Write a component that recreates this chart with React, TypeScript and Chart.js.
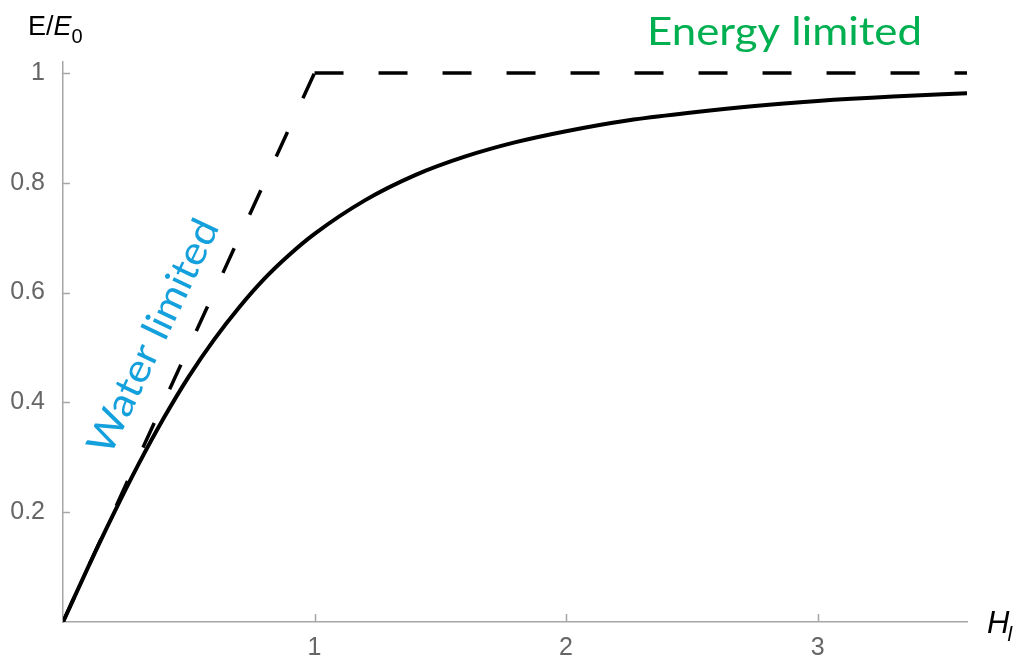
import React, { useEffect, useRef } from "react";
import { Chart, registerables } from "chart.js";

Chart.register(...registerables);

// Aridity index H_l along the curve and the evaporation ratio E/E0
const hValues = [0, 0.1, 0.2, 0.3, 0.4, 0.5, 0.6, 0.7, 0.8, 0.9, 1.0, 1.2, 1.4, 1.6, 1.8, 2.0, 2.25, 2.5, 2.75, 3.0, 3.3, 3.594];
const evapRatio = [0, 0.1, 0.196, 0.287, 0.371, 0.447, 0.514, 0.573, 0.625, 0.669, 0.707, 0.768, 0.814, 0.848, 0.874, 0.894, 0.914, 0.928, 0.94, 0.949, 0.957, 0.963];

// Limit lines: water-limited branch and energy-limited plateau
const waterLimitH = [0, 1];
const waterLimitE = [0, 1];
const energyLimitH = [1, 3.594];
const energyLimitE = [1, 1];

// Axis ticks
const xTicks = [1, 2, 3];
const xTickLabels = ["1", "2", "3"];
const yTicks = [0.2, 0.4, 0.6, 0.8, 1];
const yTickLabels = ["0.2", "0.4", "0.6", "0.8", "1"];

const AXIS_COLOR = "#a6a6a6";
const TICK_TEXT = "#666666";
const GREEN = "#00b050";
const BLUE = "#14a0dc";
const SANS = "'Liberation Sans', Arial, sans-serif";

function toPoints(xs: number[], ys: number[]) {
  return xs.map((x, i) => ({ x, y: ys[i] }));
}

function drawFitted(
  ctx: CanvasRenderingContext2D,
  text: string,
  x: number,
  y: number,
  width: number,
  font: string,
  color: string,
  angle: number
) {
  ctx.save();
  ctx.font = font;
  ctx.fillStyle = color;
  ctx.textAlign = "center";
  ctx.textBaseline = "alphabetic";
  const w = ctx.measureText(text).width;
  ctx.translate(x, y);
  ctx.rotate(angle);
  ctx.scale(width / w, 1);
  ctx.fillText(text, 0, 0);
  ctx.restore();
}

const annotations = {
  id: "annotations",
  afterDraw(chart: any) {
    const ctx: CanvasRenderingContext2D = chart.ctx;
    const xs = chart.scales.x;
    const ys = chart.scales.y;
    const left = chart.chartArea.left;
    const bottom = chart.chartArea.bottom;

    // inward tick marks
    ctx.save();
    ctx.strokeStyle = AXIS_COLOR;
    ctx.lineWidth = 1.5;
    ctx.beginPath();
    yTicks.forEach((v) => {
      const py = Math.round(ys.getPixelForValue(v)) + 0.5;
      ctx.moveTo(left, py);
      ctx.lineTo(left + 7, py);
    });
    xTicks.forEach((v) => {
      const px = Math.round(xs.getPixelForValue(v)) + 0.5;
      ctx.moveTo(px, bottom);
      ctx.lineTo(px, bottom - 8);
    });
    ctx.stroke();
    ctx.restore();

    // axis titles
    ctx.save();
    ctx.fillStyle = "#000";
    ctx.textBaseline = "alphabetic";
    ctx.textAlign = "left";
    let tx = 28;
    ctx.font = `27px ${SANS}`;
    ctx.fillText("E/", tx, 35);
    tx += ctx.measureText("E/").width;
    ctx.font = `italic 27px ${SANS}`;
    ctx.fillText("E", tx, 35);
    tx += ctx.measureText("E").width;
    ctx.font = `20px ${SANS}`;
    ctx.fillText("0", tx, 43);

    ctx.font = `italic 31px ${SANS}`;
    ctx.fillText("H", 987, 633);
    const hw = ctx.measureText("H").width;
    ctx.font = `italic 21px ${SANS}`;
    ctx.fillText("l", 985 + hw, 641);
    ctx.restore();

    // regime labels
    drawFitted(ctx, "Energy limited", 784.5, 45, 275, `39px Lato, sans-serif`, GREEN, 0);
    drawFitted(ctx, "Water limited", 165, 342, 255, `39px Lato, sans-serif`, BLUE, (-64.5 * Math.PI) / 180);
  },
};

export default function App() {
  const canvasRef = useRef<HTMLCanvasElement | null>(null);

  useEffect(() => {
    const canvas = canvasRef.current;
    if (!canvas) return;
    const chart = new Chart(canvas, {
      type: "line",
      data: {
        datasets: [
          {
            data: toPoints(hValues, evapRatio),
            borderColor: "#000",
            borderWidth: 4,
            pointRadius: 0,
            cubicInterpolationMode: "monotone",
            fill: false,
          },
          {
            data: toPoints(waterLimitH, waterLimitE),
            borderColor: "#000",
            borderWidth: 3.5,
            borderDash: [27, 37],
            borderDashOffset: 0,
            pointRadius: 0,
            fill: false,
          },
          {
            data: toPoints(energyLimitH, energyLimitE),
            borderColor: "#000",
            borderWidth: 3.5,
            borderDash: [29, 35],
            borderDashOffset: 0,
            pointRadius: 0,
            fill: false,
          },
        ],
      },
      options: {
        responsive: false,
        animation: false,
        layout: { padding: { left: 0, right: 63, top: 62, bottom: 0 } },
        plugins: { legend: { display: false }, tooltip: { enabled: false } },
        scales: {
          x: {
            type: "linear",
            min: 0,
            max: 3.594,
            grid: { display: false },
            border: { display: true, color: AXIS_COLOR, width: 1.5 },
            afterBuildTicks: (scale: any) => {
              scale.ticks = xTicks.map((v) => ({ value: v }));
            },
            afterFit: (scale: any) => {
              scale.height = 37;
            },
            ticks: {
              color: TICK_TEXT,
              font: { family: SANS, size: 25 },
              padding: 3,
              maxRotation: 0,
              callback: (v: any) => xTickLabels[xTicks.indexOf(Number(v))] ?? "",
            },
          },
          y: {
            type: "linear",
            min: 0,
            max: 1.02,
            grid: { display: false },
            border: { display: true, color: AXIS_COLOR, width: 1.5 },
            afterBuildTicks: (scale: any) => {
              scale.ticks = yTicks.map((v) => ({ value: v }));
            },
            afterFit: (scale: any) => {
              scale.width = 63;
            },
            ticks: {
              color: TICK_TEXT,
              font: { family: SANS, size: 25 },
              padding: 10,
              callback: (v: any) => {
                const i = yTicks.findIndex((t) => Math.abs(t - Number(v)) < 1e-6);
                return i >= 0 ? yTickLabels[i] : "";
              },
            },
          },
        },
      },
      plugins: [annotations],
    });
    return () => chart.destroy();
  }, []);

  return (
    <div style={{ position: "fixed", left: 0, top: 0, width: 1030, height: 659, background: "#fff" }}>
      <canvas ref={canvasRef} width={1030} height={659} style={{ display: "block" }} />
    </div>
  );
}
